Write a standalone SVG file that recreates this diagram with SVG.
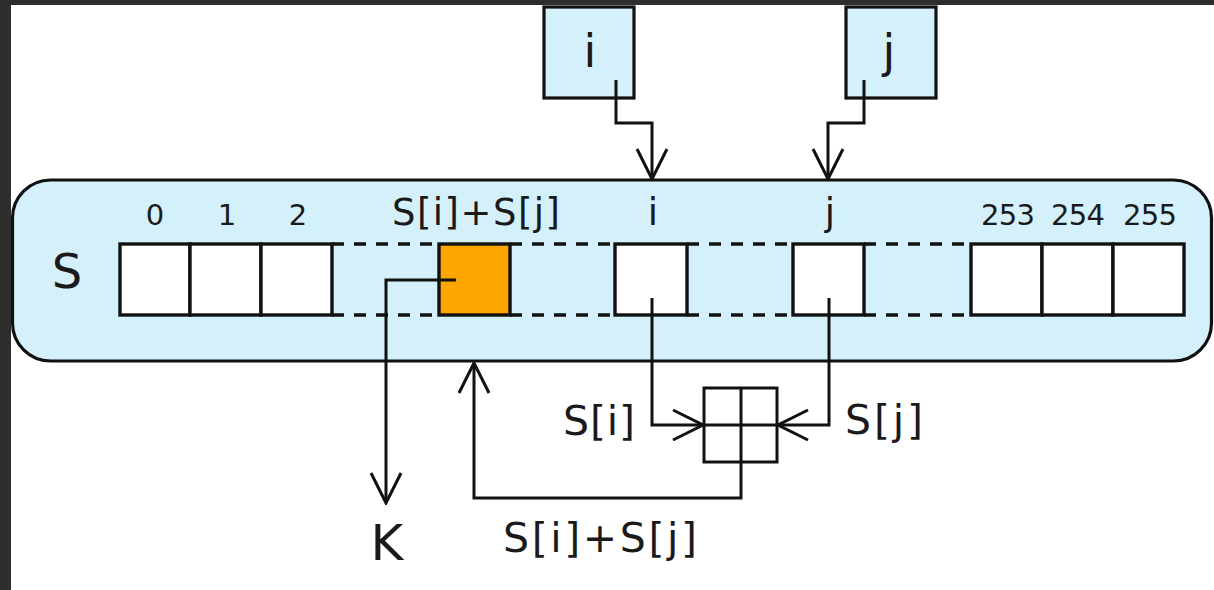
<svg xmlns="http://www.w3.org/2000/svg" width="1214" height="590" viewBox="0 0 1214 590">
<style>
.t{font-family:"DejaVu Sans","Verdana","Liberation Sans",sans-serif;fill:#1a1a1a}
.cell{fill:#ffffff;stroke:#111;stroke-width:3.4}
.dash{stroke:#111;stroke-width:3.4;stroke-dasharray:12 10;fill:none}
.con{fill:none;stroke:#111;stroke-width:3}
.box{fill:#d3f0fb;stroke:#111;stroke-width:3.2}
</style>
<defs>
<marker id="arr" markerUnits="userSpaceOnUse" viewBox="-34 -18 36 36" markerWidth="36" markerHeight="36" refX="0" refY="0" orient="auto">
<path d="M-30,-15 L0,0 L-30,15" fill="none" stroke="#111" stroke-width="3"/>
</marker>
</defs>
<rect x="0" y="0" width="1214" height="590" fill="#ffffff"/>
<rect x="0" y="0" width="1214" height="5" fill="#2e2e2e"/>
<rect x="0" y="0" width="11" height="590" fill="#2e2e2e"/>

<g id="stateS">
<rect class="box" x="12.5" y="180" width="1199" height="181" rx="38" ry="38"/>
<text class="t" x="67" y="288" font-size="48" text-anchor="middle">S</text>
</g>

<g id="dashes">
<line class="dash" x1="332" y1="244" x2="438" y2="244"/>
<line class="dash" x1="332" y1="315" x2="438" y2="315"/>
<line class="dash" x1="510" y1="244" x2="615" y2="244"/>
<line class="dash" x1="510" y1="315" x2="615" y2="315"/>
<line class="dash" x1="687" y1="244" x2="793" y2="244"/>
<line class="dash" x1="687" y1="315" x2="793" y2="315"/>
<line class="dash" x1="864" y1="244" x2="971" y2="244"/>
<line class="dash" x1="864" y1="315" x2="971" y2="315"/>
</g>

<g id="cells-left">
<rect class="cell" x="120" y="244" width="70" height="71"/>
<rect class="cell" x="190" y="244" width="71" height="71"/>
<rect class="cell" x="261" y="244" width="71" height="71"/>
<text class="t" x="155" y="225" font-size="29" text-anchor="middle">0</text>
<text class="t" x="227" y="225" font-size="29" text-anchor="middle">1</text>
<text class="t" x="298" y="225" font-size="29" text-anchor="middle">2</text>
</g>

<g id="cell-sum">
<rect x="439" y="244" width="71" height="71" fill="#ffa500" stroke="#111" stroke-width="3.4"/>
<text class="t" x="392" y="225" font-size="37" textLength="168" lengthAdjust="spacing">S[i]+S[j]</text>
</g>

<g id="cell-i">
<rect class="cell" x="615" y="244" width="72" height="71"/>
<text class="t" x="653" y="225" font-size="37" text-anchor="middle">i</text>
</g>

<g id="cell-j">
<rect class="cell" x="793" y="244" width="71" height="71"/>
<text class="t" x="830" y="225" font-size="37" text-anchor="middle">j</text>
</g>

<g id="cells-right">
<rect class="cell" x="971" y="244" width="71" height="71"/>
<rect class="cell" x="1042" y="244" width="71" height="71"/>
<rect class="cell" x="1113" y="244" width="71" height="71"/>
<text class="t" x="1008" y="225" font-size="29" text-anchor="middle" textLength="54" lengthAdjust="spacing">253</text>
<text class="t" x="1078" y="225" font-size="29" text-anchor="middle" textLength="54" lengthAdjust="spacing">254</text>
<text class="t" x="1150" y="225" font-size="29" text-anchor="middle" textLength="54" lengthAdjust="spacing">255</text>
</g>

<g id="reg-i">
<rect class="box" x="544" y="7" width="90" height="91"/>
<text class="t" x="590" y="67" font-size="46" text-anchor="middle">i</text>
</g>

<g id="reg-j">
<rect class="box" x="846" y="7" width="90" height="91"/>
<text class="t" x="889" y="67" font-size="46" text-anchor="middle">j</text>
</g>

<g id="adder">
<rect x="704" y="388" width="73" height="74" fill="#ffffff" stroke="#111" stroke-width="3"/>
<line x1="741" y1="388" x2="741" y2="462" stroke="#111" stroke-width="3"/>
<line x1="704" y1="425" x2="777" y2="425" stroke="#111" stroke-width="3"/>
</g>

<g id="connectors">
<path class="con" d="M616,80 V123 H652 V179" marker-end="url(#arr)"/>
<path class="con" d="M864,80 V123 H828 V179" marker-end="url(#arr)"/>
<path class="con" d="M652,298 V425 H703" marker-end="url(#arr)"/>
<path class="con" d="M829,298 V425 H778" marker-end="url(#arr)"/>
<path class="con" d="M741,462 V498 H474 V363" marker-end="url(#arr)"/>
<path class="con" d="M456,280 H386 V503" marker-end="url(#arr)"/>
</g>

<g id="labels">
<text class="t" x="563" y="435" font-size="41" textLength="72" lengthAdjust="spacing">S[i]</text>
<text class="t" x="845" y="434" font-size="41" textLength="78" lengthAdjust="spacing">S[j]</text>
<text class="t" x="503" y="552" font-size="41" textLength="194" lengthAdjust="spacing">S[i]+S[j]</text>
<text class="t" x="387" y="560" font-size="50" text-anchor="middle">K</text>
</g>
</svg>
